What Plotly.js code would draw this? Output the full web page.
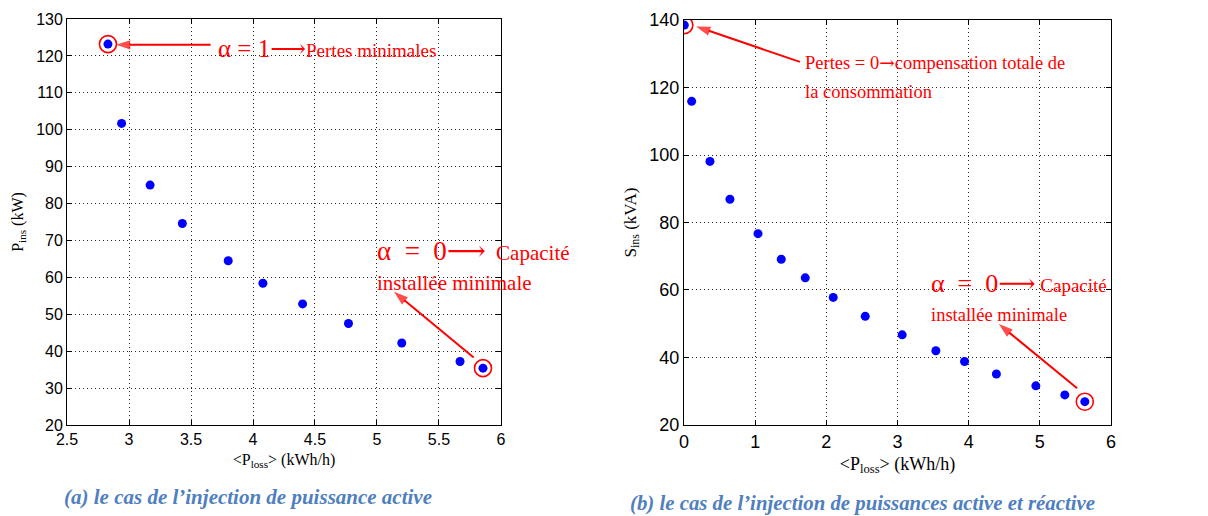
<!DOCTYPE html>
<html>
<head>
<meta charset="utf-8">
<script src="https://cdn.plot.ly/plotly-3.0.1.min.js"></script>
<style>html,body{margin:0;padding:0;background:#fff;}#chart{width:1208px;height:516px;}</style>
</head>
<body>
<div id="chart"></div>
<script>
// (a) active power injection
const lossA = [2.83, 2.94, 3.17, 3.43, 3.80, 4.08, 4.40, 4.77, 5.20, 5.67, 5.855];
const pIns  = [123.2, 101.7, 85.0, 74.6, 64.5, 58.4, 52.8, 47.5, 42.2, 37.2, 35.4];
// (b) active + reactive power injection
const lossB = [0.005, 0.108, 0.365, 0.646, 1.04, 1.367, 1.704, 2.097, 2.547, 3.066, 3.539, 3.942, 4.39, 4.944, 5.351, 5.632];
const sIns  = [138.5, 115.9, 98.1, 86.9, 76.7, 69.1, 63.6, 57.8, 52.2, 46.7, 42.0, 38.8, 35.1, 31.6, 28.9, 26.9];

const ticksA_x = [2.5, 3, 3.5, 4, 4.5, 5, 5.5, 6];
const ticksA_y = [20, 30, 40, 50, 60, 70, 80, 90, 100, 110, 120, 130];
const ticksB_x = [0, 1, 2, 3, 4, 5, 6];
const ticksB_y = [20, 40, 60, 80, 100, 120, 140];

const captionA = "(a) le cas de l’injection de puissance active";
const captionB = "(b) le cas de l’injection de puissances active et réactive";

const RED = '#ff0000';
const BLUE = '#0000ff';
const serif = '"Liberation Serif", "Times New Roman", serif';
const sans = '"Liberation Sans", Arial, sans-serif';
const NB = '\u00a0';
const ARW = '<span style="font-family:\'DejaVu Serif\'">⟶</span>';
const arw = '<span style="font-family:\'DejaVu Serif\'">→</span>';
function alpha(v, size) {
  return '<span style="font-size:' + size + 'px">α' + NB + NB + '=' + NB + NB + v + ARW + '</span>';
}

function circles(xs, ys, xa, ya) {
  return {x: [xs[0], xs[xs.length-1]], y: [ys[0], ys[ys.length-1]], type: 'scatter', mode: 'markers',
    xaxis: xa, yaxis: ya, marker: {symbol: 'circle-open', size: 17, color: RED, line: {width: 1.6, color: RED}},
    showlegend: false, hoverinfo: 'skip'};
}
function arrow(x0, y0, x1, y1, xa, ya) {
  return {x: [x0, x1], y: [y0, y1], type: 'scatter', mode: 'lines+markers', xaxis: xa, yaxis: ya,
    line: {color: RED, width: 2}, marker: {symbol: 'arrow', size: [0, 15], angleref: 'previous', color: RED, line: {width: 0}},
    showlegend: false, hoverinfo: 'skip', cliponaxis: false};
}

const traces = [
  {x: lossA, y: pIns, type: 'scatter', mode: 'markers', xaxis: 'x', yaxis: 'y',
   marker: {color: BLUE, size: 9}, hoverinfo: 'x+y', showlegend: false},
  circles(lossA, pIns, 'x', 'y'),
  arrow(3.658, 123.0, 2.895, 123.0, 'x', 'y'),
  arrow(5.78, 38.3, 5.137, 56.1, 'x', 'y'),
  {x: lossB, y: sIns, type: 'scatter', mode: 'markers', xaxis: 'x2', yaxis: 'y2',
   marker: {color: BLUE, size: 9}, hoverinfo: 'x+y', showlegend: false},
  circles(lossB, sIns, 'x2', 'y2'),
  arrow(1.629, 127.6, 0.17, 138.1, 'x2', 'y2'),
  arrow(5.524, 30.9, 4.424, 49.9, 'x2', 'y2')
];

function axis(domain, range, ticks, size, anchor) {
  return {
    domain: domain, range: range, tickvals: ticks, ticktext: ticks.map(String),
    showgrid: true, gridcolor: '#222', griddash: '1px,3px', gridwidth: 1,
    showline: true, linecolor: '#000', linewidth: 1, mirror: 'ticks',
    ticks: 'inside', ticklen: 5, tickcolor: '#000', zeroline: false,
    tickfont: {family: sans, size: size, color: '#000'}, anchor: anchor, fixedrange: true
  };
}

const layout = {
  width: 1208, height: 516,
  margin: {l: 0, r: 0, t: 0, b: 0},
  paper_bgcolor: '#fff', plot_bgcolor: '#fff',
  showlegend: false,
  xaxis: Object.assign(axis([0.0555, 0.4147], [2.5, 6], ticksA_x, 16, 'y'),
    {title: {text: '&lt;P<sub>loss</sub>&gt; (kWh/h)', font: {family: serif, size: 16, color: '#000'}, standoff: 6}}),
  yaxis: Object.assign(axis([0.1764, 0.9632], [20, 130], ticksA_y, 16, 'x'),
    {title: {text: 'P<sub>ins</sub> (kW)', font: {family: serif, size: 16, color: '#000'}, standoff: 8}}),
  xaxis2: Object.assign(axis([0.5662, 0.9197], [0, 6], ticksB_x, 18, 'y2'),
    {title: {text: '&lt;P<sub>loss</sub>&gt; (kWh/h)', font: {family: serif, size: 18, color: '#000'}, standoff: 6}}),
  yaxis2: Object.assign(axis([0.1764, 0.9612], [20, 140], ticksB_y, 18, 'x2'),
    {title: {text: 'S<sub>ins</sub> (kVA)', font: {family: serif, size: 17, color: '#000'}, standoff: 8}}),
  annotations: [
    // left panel
    {xref: 'x', yref: 'y', xanchor: 'left', yanchor: 'middle', x: 3.698, y: 122.0, showarrow: false,
     text: '<span style="font-size:25px">α = 1' + ARW + '</span><span style="font-size:19px">Pertes minimales</span>',
     font: {family: serif, size: 19, color: RED}},
    {xref: 'x', yref: 'y', xanchor: 'left', yanchor: 'middle', x: 4.984, y: 67.2, showarrow: false,
     text: alpha('0', 27) + '<span style="font-size:21px">' + NB + NB + 'Capacité</span>',
     font: {family: serif, size: 21, color: RED}},
    {xref: 'x', yref: 'y', xanchor: 'left', yanchor: 'middle', x: 4.984, y: 58.5, showarrow: false,
     text: 'installée minimale', font: {family: serif, size: 21, color: RED}},
    // right panel
    {xref: 'x2', yref: 'y2', xanchor: 'left', yanchor: 'middle', x: 1.671, y: 127.3, showarrow: false,
     text: 'Pertes = 0' + arw + 'compensation totale de', font: {family: serif, size: 18.5, color: RED}},
    {xref: 'x2', yref: 'y2', xanchor: 'left', yanchor: 'middle', x: 1.671, y: 118.7, showarrow: false,
     text: 'la consommation', font: {family: serif, size: 18.5, color: RED}},
    {xref: 'x2', yref: 'y2', xanchor: 'left', yanchor: 'middle', x: 3.44, y: 62.1, showarrow: false,
     text: alpha('0', 26) + '<span style="font-size:19px">' + NB + 'Capacité</span>',
     font: {family: serif, size: 19, color: RED}},
    {xref: 'x2', yref: 'y2', xanchor: 'left', yanchor: 'middle', x: 3.44, y: 52.7, showarrow: false,
     text: 'installée minimale', font: {family: serif, size: 18.5, color: RED}},
    // captions
    {xref: 'paper', yref: 'paper', x: 248/1208, y: 1 - 497/516, xanchor: 'center', yanchor: 'middle', showarrow: false,
     text: '<b><i>' + captionA + '</i></b>', font: {family: serif, size: 21, color: '#4f7fc0'}},
    {xref: 'paper', yref: 'paper', x: 862/1208, y: 1 - 503/516, xanchor: 'center', yanchor: 'middle', showarrow: false,
     text: '<b><i>' + captionB + '</i></b>', font: {family: serif, size: 20.8, color: '#4f7fc0'}}
  ]
};

Plotly.newPlot('chart', traces, layout, {displayModeBar: false, staticPlot: true});
</script>
</body>
</html>
